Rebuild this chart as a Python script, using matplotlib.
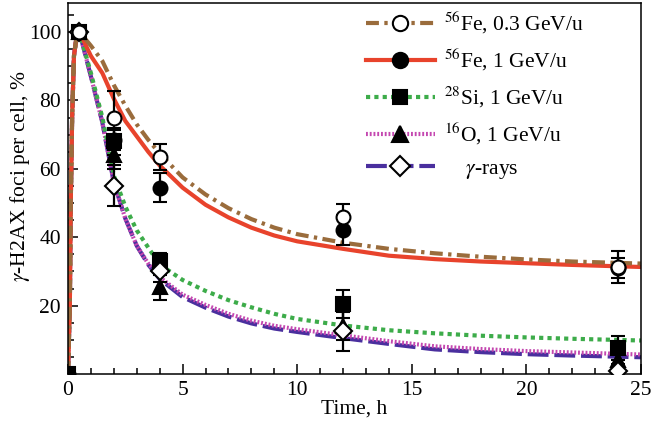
import matplotlib
matplotlib.use("Agg")
import matplotlib.pyplot as plt
from matplotlib.lines import Line2D
from matplotlib.ticker import MultipleLocator

plt.rcParams["font.family"] = ["Liberation Serif", "DejaVu Serif"]
plt.rcParams["mathtext.fontset"] = "stix"

# ---- fitted kinetic curves (time in h, % of maximum foci) ----
curve_t = [0, 0.08, 0.12, 0.18, 0.26, 0.38, 0.5, 1, 1.5, 2, 2.5, 3, 3.5, 4, 5, 6, 7,
           8, 9, 10, 12, 14, 16, 18, 20, 22, 25]
fe03_curve = [0, 20, 50, 75, 93, 99, 100, 96, 91.5, 84.5, 78.5, 73, 68.5, 64.5, 57.5,
              52.5, 48.5, 45.3, 42.8, 40.9, 38.4, 36.6, 35.3, 34.3, 33.5, 32.9, 32.3]
fe1_curve = [0, 20, 50, 75, 93, 99, 100, 93, 88, 80.5, 74, 69.5, 65, 61, 54.5,
             49.5, 45.8, 42.8, 40.5, 38.8, 36.6, 34.6, 33.6, 32.9, 32.4, 31.9, 31.3]
si_curve = [0, 20, 50, 75, 93, 99, 100, 88, 75, 58, 49, 42, 37, 32, 27.5,
            24.3, 21.6, 19.5, 17.6, 16.1, 14.2, 12.8, 11.9, 11.2, 10.7, 10.3, 9.8]
o_curve = [0, 20, 50, 75, 93, 99, 100, 87, 73.5, 56, 45.5, 37.5, 32.3, 28.3, 23.2,
           20.2, 17.6, 15.6, 14.1, 13.1, 11.3, 9.6, 8.1, 7.3, 6.7, 6.3, 5.7]
gamma_curve = [0, 20, 50, 75, 93, 99, 100, 87, 73.5, 56, 45.5, 37.5, 32, 27.8, 22.5,
               19.4, 16.8, 14.8, 13.3, 12.3, 10.5, 8.8, 7.2, 6.4, 5.8, 5.4, 4.9]

# ---- measured points with error bars ----
fe03_t = [0.5, 2, 4, 12, 24]
fe03_v = [100, 75, 63.5, 46, 31.3]
fe03_e = [0, 7.8, 3.7, 3.6, 4.8]

fe1_t = [0, 0.5, 2, 4, 12, 24]
fe1_v = [0, 100, 68.5, 54.5, 42, 31]
fe1_e = [0, 0, 3, 4.3, 4.4, 3]

si_t = [0, 0.5, 2, 4, 12, 24]
si_v = [0, 100, 68, 33, 20.5, 7.5]
si_e = [0, 0, 4, 2.3, 4.2, 3.5]

o_t = [0.5, 2, 4, 12, 24]
o_v = [100, 64, 25.3, 14, 4]
o_e = [0, 4, 3.7, 4, 3]

gamma_t = [0.5, 2, 4, 12, 24]
gamma_v = [100, 55, 30, 12.5, 1]
gamma_e = [0, 6, 3, 5.8, 2]

labels = [r"$^{56}$Fe, 0.3 GeV/u", r"$^{56}$Fe, 1 GeV/u", r"$^{28}$Si, 1 GeV/u",
          r"$^{16}$O, 1 GeV/u", r"    $\gamma$-rays"]

c_fe03 = "#9a6c3c"
c_fe1 = "#e8432c"
c_si = "#3dac4a"
c_o = "#c447b0"
c_gamma = "#4a2f9e"

ls_fe03 = (0, (3.1, 1.3, 0.8, 1.3))
ls_fe1 = "-"
ls_si = (0, (1.0, 1.0))
ls_o = (0, (0.45, 0.45))
ls_gamma = (0, (5.0, 1.4))
LW = 3.0
FS = 15.5

fig = plt.figure(figsize=(6.52, 4.32), dpi=100)
ax = fig.add_axes([68 / 652, 1 - 374 / 432, (641 - 68) / 652, (374 - 3) / 432])

ax.plot(curve_t, gamma_curve, color=c_gamma, lw=LW, ls=ls_gamma, zorder=2)
ax.plot(curve_t, o_curve, color=c_o, lw=LW, ls=ls_o, zorder=2.1)
ax.plot(curve_t, si_curve, color=c_si, lw=LW, ls=ls_si, zorder=2.2)
ax.plot(curve_t, fe1_curve, color=c_fe1, lw=LW, ls=ls_fe1, zorder=2.3)
ax.plot(curve_t, fe03_curve, color=c_fe03, lw=LW, ls=ls_fe03, zorder=2.4)

eb = dict(ecolor="black", elinewidth=1.6, capsize=5, capthick=1.6, ls="none",
          ms=10, mec="black", mew=1.5)
ax.errorbar(o_t, o_v, yerr=o_e, marker="^", mfc="black", zorder=3, **eb)
ax.errorbar(si_t, si_v, yerr=si_e, marker="s", mfc="black", zorder=3.1, **eb)
ax.errorbar(fe1_t, fe1_v, yerr=fe1_e, marker="o", mfc="black", zorder=3.2, **eb)
ax.errorbar(gamma_t, gamma_v, yerr=gamma_e, marker="D", mfc="white", zorder=3.3,
            **{**eb, "ms": 9})
ax.errorbar(fe03_t, fe03_v, yerr=fe03_e, marker="o", mfc="white", zorder=3.4, **eb)

ax.set_xlim(0, 25)
ax.set_ylim(0, 108.5)
ax.xaxis.set_major_locator(MultipleLocator(5))
ax.xaxis.set_minor_locator(MultipleLocator(1))
ax.yaxis.set_major_locator(MultipleLocator(20))
ax.yaxis.set_minor_locator(MultipleLocator(5))
ax.set_yticks([20, 40, 60, 80, 100])
ax.tick_params(which="both", direction="in", top=False, right=False,
               labelsize=FS, width=1.1, pad=5)
ax.tick_params(which="major", length=7)
ax.tick_params(which="minor", length=4)
for s in ax.spines.values():
    s.set_linewidth(1.1)

ax.set_xlabel("Time, h", fontsize=FS, labelpad=0)
ax.set_ylabel(r"$\gamma$-H2AX foci per cell, %", fontsize=FS)
ax.yaxis.set_label_coords(-0.062, 0.534)

handles = [
    Line2D([], [], color=c_fe03, lw=LW, ls=ls_fe03, marker="o", ms=11, mfc="white", mec="black", mew=1.5),
    Line2D([], [], color=c_fe1, lw=LW, ls=ls_fe1, marker="o", ms=11, mfc="black", mec="black", mew=1.5),
    Line2D([], [], color=c_si, lw=LW, ls=ls_si, marker="s", ms=10, mfc="black", mec="black", mew=1.5),
    Line2D([], [], color=c_o, lw=LW, ls=ls_o, marker="^", ms=12, mfc="black", mec="black", mew=1.5),
    Line2D([], [], color=c_gamma, lw=LW, ls=ls_gamma, marker="D", ms=10, mfc="white", mec="black", mew=1.5),
]
fig.legend(handles, labels, loc="upper left", bbox_to_anchor=(355 / 652, 1 + 1 / 432),
           frameon=False, fontsize=FS, handlelength=3.2, handletextpad=0.42,
           labelspacing=0.53, borderpad=0, numpoints=1)

fig.savefig("out.png", dpi=100)
